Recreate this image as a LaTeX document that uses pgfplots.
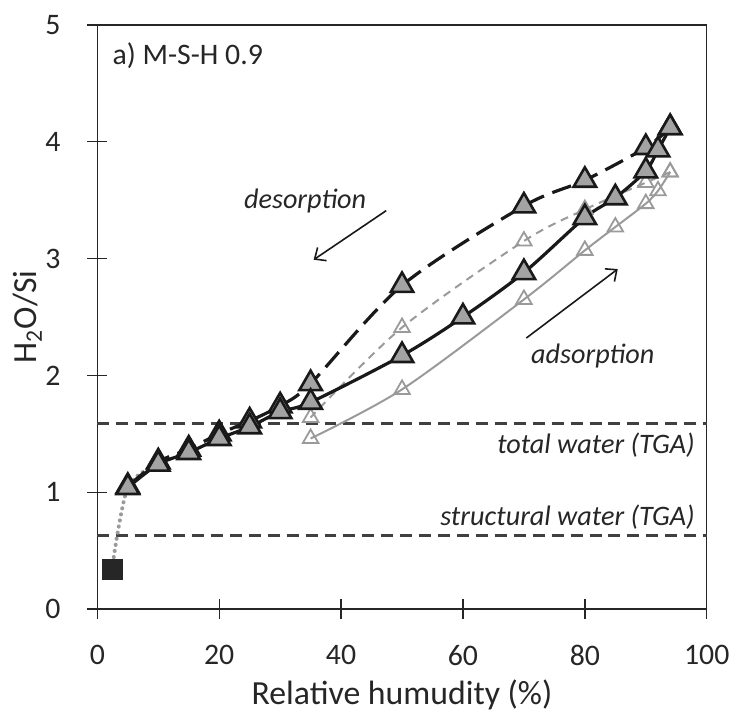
\documentclass[border=0pt]{standalone}
\usepackage{fontspec}
\setmainfont{Carlito}
\usepackage{pgfplots}
\pgfplotsset{compat=1.18}
\usetikzlibrary{arrows.meta}
\definecolor{txt}{HTML}{262626}
\definecolor{mfill}{HTML}{A3A3A3}
\definecolor{lgray}{HTML}{9A9A9A}
\begin{document}
\begin{tikzpicture}
\begin{axis}[
  scale only axis, width=305.8bp, height=293.15bp,
  xmin=0, xmax=100, ymin=0, ymax=5,
  xtick={0,20,...,100}, ytick={0,1,...,5},
  tick align=center, major tick length=10bp,
  xtick pos=bottom, ytick pos=left,
  axis line style={black!85, line width=0.7bp},
  tick style={black!85, line width=0.7bp},
  font=\fontsize{15}{18}\selectfont,
  /pgf/number format/assume math mode=true,
  ticklabel style={text=txt},
  xticklabel style={yshift=-9.5bp},
  yticklabel style={xshift=-10bp},
  xlabel={Relative humudity (\%)},
  ylabel={H\textsubscript{2}O/Si},
  label style={font=\fontsize{17}{20}\selectfont, text=txt},
  xlabel style={at={(axis description cs:0.5,-0.147)}, anchor=center},
  ylabel style={at={(axis description cs:-0.1145,0.5)}, anchor=center},
  clip=false,
]
% invisible frame for the page size
\path (rel axis cs:-0.1597,-0.1735) rectangle (rel axis cs:1.0437,1.0426);

% TGA reference lines
\addplot[black!75, line width=1.3bp, dash pattern=on 6bp off 3.5bp] coordinates {(0,1.59) (100,1.59)};
\addplot[black!75, line width=1.3bp, dash pattern=on 6bp off 3.5bp] coordinates {(0,0.63) (100,0.63)};

% dry point to first step
\addplot[lgray, line width=2bp, dash pattern=on 0.1bp off 3bp, line cap=round, smooth] coordinates {
  (2.4,0.34) (5,1.04) (10,1.24)
};

% second cycle (open grey)
\addplot[lgray, line width=1bp, dash pattern=on 4bp off 3bp, smooth,
  mark=triangle, mark size=4.5bp, mark options={solid, fill=white, line width=0.9bp}] coordinates {
  (94,3.74) (90,3.65) (80,3.42) (70,3.15) (50,2.41) (35,1.64)
};
\addplot[lgray, line width=1bp, smooth,
  mark=triangle, mark size=4.5bp, mark options={solid, fill=white, line width=0.9bp}] coordinates {
  (35,1.46) (50,1.88) (70,2.65) (80,3.07) (85,3.27) (90,3.47) (92,3.58) (94,3.74)
};

% first cycle (filled)
\addplot[black!90, line width=1.6bp, dash pattern=on 10bp off 4.5bp, smooth,
  mark=triangle*, mark size=6.5bp, mark options={solid, fill=mfill, draw=black!90, line width=1.3bp}] coordinates {
  (94,4.12) (90,3.95) (80,3.67) (70,3.45) (50,2.77) (35,1.93) (30,1.74) (25,1.61) (20,1.50) (15,1.37) (10,1.26) (5,1.05)
};
\addplot[black!90, line width=1.6bp, smooth,
  mark=triangle*, mark size=6.5bp, mark options={solid, fill=mfill, draw=black!90, line width=1.3bp}] coordinates {
  (5,1.04) (10,1.24) (15,1.34) (20,1.46) (25,1.56) (30,1.69) (35,1.77) (50,2.17) (60,2.50) (70,2.88) (80,3.35) (85,3.52) (90,3.75) (92,3.93) (94,4.12)
};

% dry point
\addplot[only marks, mark=square*, mark size=5bp, mark options={fill=black!85, draw=black!85}] coordinates {(2.4,0.34)};

% annotations
\node[anchor=west, text=txt, inner sep=0pt] at (axis cs:2.45,4.74) {a) M-S-H 0.9};
\node[text=txt, font=\fontsize{14.2}{17}\selectfont\itshape] at (axis cs:34.1,3.49) {desorption};
\node[text=txt, font=\fontsize{14.2}{17}\selectfont\itshape] at (axis cs:81.3,2.17) {adsorption};
\draw[-{Straight Barb[length=4.5bp,width=8bp]}, black!90, line width=0.8bp] (axis cs:47.4,3.41) -- (axis cs:35.5,2.99);
\draw[-{Straight Barb[length=4.5bp,width=8bp]}, black!90, line width=0.8bp] (axis cs:70.4,2.32) -- (axis cs:85.4,2.91);
\node[anchor=east, inner sep=0pt, text=txt, font=\fontsize{14.2}{17}\selectfont\itshape] at (axis cs:98.1,1.40) {total water (TGA)};
\node[anchor=east, inner sep=0pt, text=txt, font=\fontsize{14.2}{17}\selectfont\itshape] at (axis cs:98.1,0.79) {structural water (TGA)};
\end{axis}
\end{tikzpicture}
\end{document}
